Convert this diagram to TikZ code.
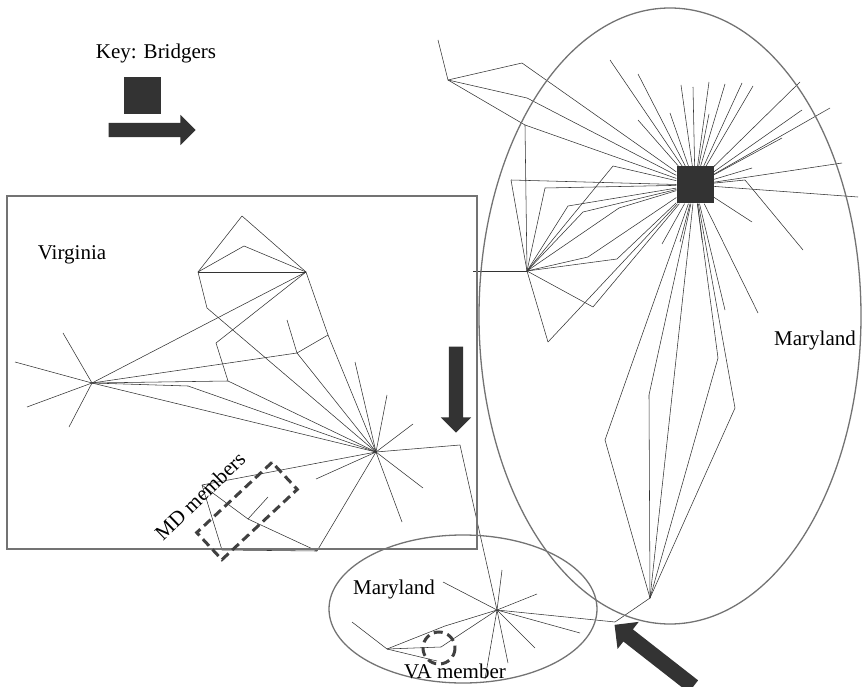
\documentclass[tikz,border=0pt]{standalone}
\usepackage{fontspec}
\setmainfont{Liberation Serif}
\usetikzlibrary{shapes,shapes.arrows,positioning}
\tikzset{
    link/.style={draw=black!80, line width=0.55pt},
    bridger/.style={rectangle, fill=black!80, minimum size=37pt, inner sep=0pt},
    region/.style={draw=black!55, line width=1.3pt},
    member/.style={draw=black!75, line width=3pt, dash pattern=on 9pt off 5pt},
    bigarrow/.style={single arrow, fill=black!80, inner xsep=0pt, inner ysep=7pt,
        single arrow head extend=8pt, minimum height=#1},
    lab/.style={font=\fontsize{21}{25}\selectfont, inner sep=0pt}
}
\begin{document}
\begin{tikzpicture}[x=1pt,y=-1pt]
    \useasboundingbox (0,0) rectangle (863,687);

    % Maryland (big cluster)
    \node[bridger] (H) at (695,185) {};
    \foreach \n/\x/\y in {n1/438/40, n2/448/80, n3/522/63, n4/527/98, n5/525/125,
        a1/610/60, a2/638/74, a3/681/85, a4/693/87, a5/709/82, a6/725/84, a7/742/83,
        a8/753/86, a9/800/82, a10/802/110, a11/830/108, a12/782/138, a13/638/120,
        a14/670/113, a15/709/114, a16/752/168, a17/842/163, a18/745/180, a19/803/250,
        a20/858/197, a21/752/222, a22/758/313, a23/725/310, a24/662/244, a25/680/242,
        a26/702/240, L/527/271, c0/473/271, c1/511/180, c2/545/188, c3/568/206,
        c4/583/212, c5/613/166, c6/619/208, c7/588/257, c8/617/259, c9/593/307,
        c10/548/342, B/650/598, b1/605/440, b2/649/395, b4/718/358, b5/735/408}
        \coordinate (\n) at (\x,\y);

    % Virginia
    \foreach \n/\x/\y in {v1/242/216, v2/244/246, v3/198/272, v4/306/272, v5/207/308,
        v6/328/335, v7/297/353, v8/216/343, v9/228/381, v10/287/320, v11/188/386,
        L2/92/383, w1/63/333, w2/15/362, w3/27/407, w4/69/427, G/376/452,
        g1/355/362, g2/387/395, g3/413/424, g4/423/488, g5/402/522, g6/316/479,
        r1/460/445, m1/202/485, m2/222/550, m3/248/519, m4/317/551, m5/268/497}
        \coordinate (\n) at (\x,\y);

    % Maryland (small cluster)
    \foreach \n/\x/\y in {M/497/610, d1/502/570, d2/443/582, d3/537/594, d4/580/633,
        d5/535/648, d6/508/663, d7/485/679, d8/615/622, d9/445/626, d10/441/647,
        d11/437/661, d12/352/622, p0/387/649}
        \coordinate (\n) at (\x,\y);

    \foreach \a in {n3,n4,n5,a1,a2,a3,a4,a5,a6,a7,a8,a9,a10,a11,a12,a13,a14,a15,a16,
        a17,a18,a20,a21,a22,a23,a24,a25,a26,c1,c2,c3,c4,c5,c6,c7,c8,c9,c10,b1,b2,b4,b5,B}
        \draw[link] (\a) -- (H);
    \foreach \a/\b in {n1/n2, n2/n3, n2/n4, n2/n5, n5/L, a18/a19, c0/L, c1/L, c2/L,
        c3/L, c4/L, c5/L, c6/L, c7/L, c8/L, c9/L, c10/L, b1/B, b2/B, b4/B, b5/B,
        v3/v1, v1/v4, v3/v2, v2/v4, v3/v4, v3/v5, v5/G, v4/v6, v6/G, v4/L2, v4/v8,
        v8/v9, v9/L2, v9/G, v6/v7, v7/L2, v7/G, v10/v7, L2/v11, v11/G, L2/G,
        L2/w1, L2/w2, L2/w3, L2/w4, G/g1, G/g2, G/g3, G/g4, G/g5, G/g6, G/r1, r1/M,
        G/m1, G/m4, m1/m2, m1/m3, m3/m4, m3/m5, m2/m4,
        M/d1, M/d2, M/d3, M/d4, M/d5, M/d6, M/d7, M/d8, d8/B, p0/d9, d9/M,
        p0/d10, d10/M, p0/d11, d12/p0}
        \draw[link] (\a) -- (\b);
    \node[bridger] at (H) {};

    % regions
    \draw[region] (7,196) rectangle (477,549);
    \draw[region] (670,316) ellipse [x radius=191, y radius=308];
    \draw[region] (463,609) ellipse [x radius=134, y radius=74];
    \node[member, rectangle, minimum width=103pt, minimum height=37pt, rotate=43] (mdbox) at (247,511) {};
    \draw[member] (439,648) circle [radius=16];

    % key and arrows
    \node[lab] (key) at (156,53) {Key: Bridgers};
    \node[bridger, minimum size=37pt] (keysq) at (142,96) {};
    \node[bigarrow=87pt] (keyarr) at (148.5,130) {};
    \node[bigarrow=86pt, rotate=-90] (downarr) at (456,386) {};
    \node[bigarrow=100pt, rotate=142, inner ysep=7.5pt, single arrow head extend=9.5pt] (diagarr) at (657,658) {};

    \node[lab] (va) at (72,255) {Virginia};
    \node[lab] (mdbig) at (815,340) {Maryland};
    \node[lab] (mdsmall) at (394,589) {Maryland};
    \node[lab] (vamem) at (455,671) {VA member};
    \node[lab, rotate=44] (mdmem) at (200,496) {MD members};
\end{tikzpicture}
\end{document}
